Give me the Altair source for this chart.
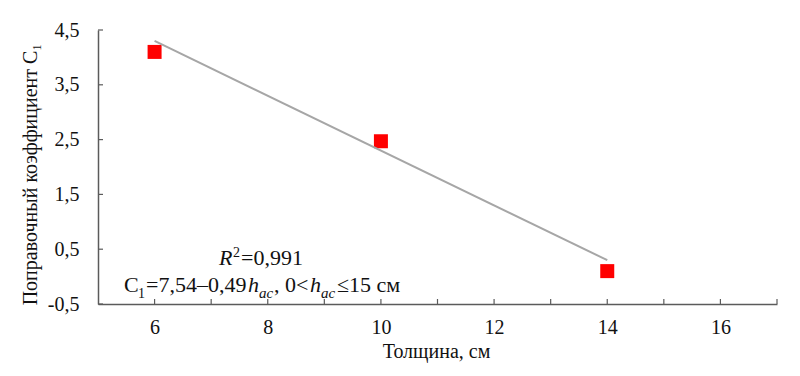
import altair as alt
import pandas as pd

# ---- data ----
thickness = [6, 10, 14]
coef = [4.1, 2.47, 0.1]
trend_x = [6, 14]
trend_y = [4.3, 0.3]
x_label_values = [6, 8, 10, 12, 14, 16]
x_tick_values = [6, 7, 8, 9, 10, 11, 12, 13, 14, 15, 16, 17]
y_tick_values = [-0.5, 0.5, 1.5, 2.5, 3.5, 4.5]

FONT = "Liberation Serif"
AXIS_COLOR = "#5b5b5b"
W, H = 679, 274

pts = pd.DataFrame({"x": thickness, "y": coef})
trend = pd.DataFrame({"x": trend_x, "y": trend_y})
xt = pd.DataFrame({"x": x_tick_values})
yt = pd.DataFrame({"y": y_tick_values})

xscale = alt.Scale(domain=[5, 17], nice=False, zero=False)
yscale = alt.Scale(domain=[-0.5, 4.5], nice=False, zero=False)

x_axis = alt.Axis(
    values=x_label_values, format="d", grid=False, ticks=False, tickSize=0,
    domainColor=AXIS_COLOR, domainWidth=1.5,
    labelFont=FONT, labelFontSize=20, labelColor="#111111", labelPadding=13,
    title="Толщина, см", titleFont=FONT, titleFontSize=20, titleFontWeight="normal",
    titleColor="#111111", titleX=338, titleY=53, titleBaseline="alphabetic", titleAlign="center",
)
y_axis = alt.Axis(
    values=y_tick_values, grid=False, ticks=False, tickSize=0,
    domainColor=AXIS_COLOR, domainWidth=1.5,
    labelFont=FONT, labelFontSize=20, labelColor="#111111", labelPadding=19,
    labelExpr="replace(datum.value + '', '.', ',')",
    title="Поправочный коэффициент C₁", titleFont=FONT, titleFontSize=20,
    titleFontWeight="normal", titleColor="#111111", titleAngle=270,
    titleX=-68, titleY=144, titleBaseline="middle", titleAlign="center",
)

points = alt.Chart(pts).mark_square(size=196, color="#ff0000", opacity=1).encode(
    x=alt.X("x:Q", scale=xscale, axis=x_axis),
    y=alt.Y("y:Q", scale=yscale, axis=y_axis),
)

line = alt.Chart(trend).mark_line(color="#a6a6a6", strokeWidth=2).encode(
    x=alt.X("x:Q", scale=xscale), y=alt.Y("y:Q", scale=yscale)
)

xticks = alt.Chart(xt).mark_rule(color=AXIS_COLOR, strokeWidth=1.2).encode(
    x=alt.X("x:Q", scale=xscale), y=alt.value(H), y2=alt.value(H - 5)
)
yticks = alt.Chart(yt).mark_rule(color=AXIS_COLOR, strokeWidth=1.2).encode(
    y=alt.Y("y:Q", scale=yscale), x=alt.value(0), x2=alt.value(5)
)

# annotation pieces (text, left x on page, baseline y on page, size, style)
L = 98
T = 30
pieces = [
    ("R", 219, 265, 22, "italic"),
    ("2", 233, 257, 14, "normal"),
    ("=0,991", 241, 265, 22, "normal"),
    ("C", 124, 292, 22, "normal"),
    ("1", 138, 298, 14, "normal"),
    ("=7,54–0,49", 146, 292, 22, "normal"),
    ("h", 248, 292, 22, "italic"),
    ("ac", 259, 298, 15, "italic"),
    (", 0<", 274, 292, 22, "normal"),
    ("h", 310, 292, 22, "italic"),
    ("ac", 321, 298, 15, "italic"),
    ("≤15 см", 337, 292, 22, "normal"),
]
blank = alt.Data(values=[{"a": 1}])
texts = [
    alt.Chart(blank).mark_text(
        text=t, align="left", baseline="alphabetic", font=FONT,
        fontSize=s, fontStyle=st, color="#111111",
    ).encode(x=alt.value(px - L), y=alt.value(py - T))
    for (t, px, py, s, st) in pieces
]

chart = alt.layer(points, line, xticks, yticks, *texts).properties(
    width=W, height=H,
    autosize=alt.AutoSizeParams(type="none"),
    padding={"left": L, "top": T, "right": 800 - L - W, "bottom": 376 - T - H},
).configure_view(stroke=None)

chart.save("out.html", embed_options={"renderer": "svg", "actions": False})
